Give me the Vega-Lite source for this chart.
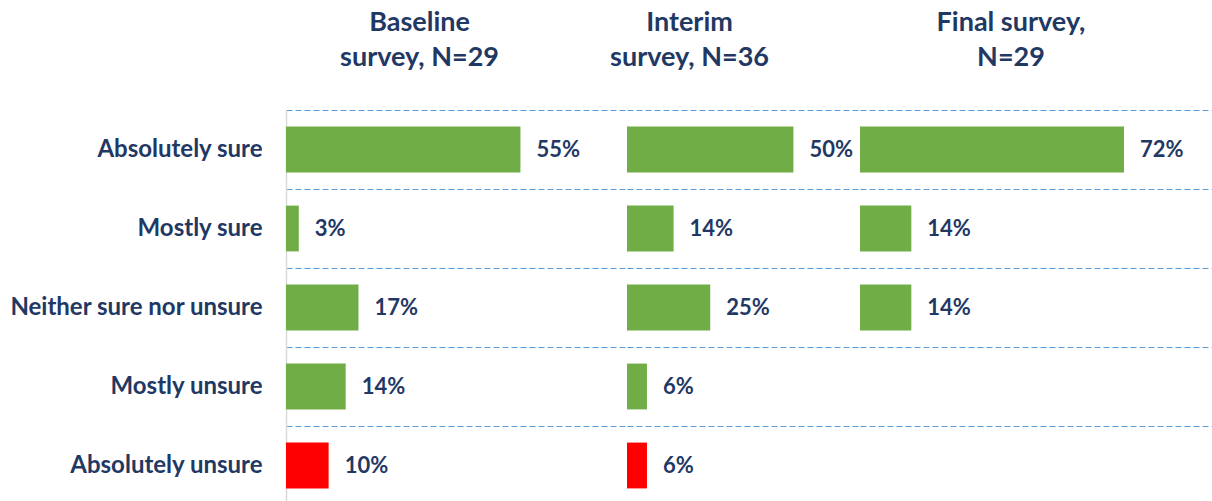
{
  "$schema": "https://vega.github.io/schema/vega-lite/v6.json",
  "padding": {"left": 8, "top": 9, "right": 0, "bottom": 0},
  "background": "#ffffff",
  "config": {
    "view": {"stroke": null},
    "concat": {"spacing": 0},
    "font": "Lato"
  },
  "bounds": "flush",
  "data": {
    "values": [
      {"survey": "Baseline", "response": "Absolutely sure", "share": 0.55},
      {"survey": "Baseline", "response": "Mostly sure", "share": 0.03},
      {"survey": "Baseline", "response": "Neither sure nor unsure", "share": 0.17},
      {"survey": "Baseline", "response": "Mostly unsure", "share": 0.14},
      {"survey": "Baseline", "response": "Absolutely unsure", "share": 0.10},
      {"survey": "Interim", "response": "Absolutely sure", "share": 0.50},
      {"survey": "Interim", "response": "Mostly sure", "share": 0.14},
      {"survey": "Interim", "response": "Neither sure nor unsure", "share": 0.25},
      {"survey": "Interim", "response": "Mostly unsure", "share": 0.06},
      {"survey": "Interim", "response": "Absolutely unsure", "share": 0.06},
      {"survey": "Final", "response": "Absolutely sure", "share": 0.72},
      {"survey": "Final", "response": "Mostly sure", "share": 0.14},
      {"survey": "Final", "response": "Neither sure nor unsure", "share": 0.14}
    ]
  },
  "hconcat": [
    {
      "width": 341,
      "height": 395,
      "title": {"text": ["Baseline", "survey, N=29"], "font": "Lato", "fontSize": 27, "fontWeight": "bold", "color": "#1F3864", "lineHeight": 35, "dx": -37, "offset": 38},
      "transform": [{"filter": "datum.survey == 'Baseline'"}],
      "encoding": {
        "y": {"field": "response", "type": "nominal", "sort": null,
          "scale": {"domain": ["Absolutely sure", "Mostly sure", "Neither sure nor unsure", "Mostly unsure", "Absolutely unsure"], "paddingInner": 0, "paddingOuter": 0},
          "axis": {"title": null, "ticks": false, "labelPadding": 24, "labelFont": "Lato", "labelFontSize": 24, "labelFontWeight": "bold", "labelColor": "#1F3864", "labelLimit": 400,
            "domain": true, "domainColor": "#D9D9D9", "domainWidth": 1.5,
            "grid": true, "bandPosition": 0, "gridColor": "#5B9BD5", "gridDash": [6, 3], "gridWidth": 1}
        },
        "x": {"field": "share", "type": "quantitative", "scale": {"domain": [0, 0.80]}, "axis": null}
      },
      "layer": [
        {"mark": {"type": "bar", "height": {"band": 0.58}},
          "encoding": {"color": {"field": "response", "type": "nominal", "scale": {"domain": ["Absolutely sure", "Mostly sure", "Neither sure nor unsure", "Mostly unsure", "Absolutely unsure"], "range": ["#70AD47", "#70AD47", "#70AD47", "#70AD47", "#FF0000"]}, "legend": null}}},
        {"mark": {"type": "text", "align": "left", "baseline": "middle", "dx": 16, "font": "Lato", "fontSize": 22, "fontWeight": "bold", "color": "#1F3864"},
          "encoding": {"text": {"field": "share", "type": "quantitative", "format": ".0%"}}}
      ]
    },
    {
      "width": 233,
      "height": 395,
      "title": {"text": ["Interim", "survey, N=36"], "font": "Lato", "fontSize": 27, "fontWeight": "bold", "color": "#1F3864", "lineHeight": 35, "dx": -54, "offset": 38},
      "transform": [{"filter": "datum.survey == 'Interim'"}],
      "encoding": {
        "y": {"field": "response", "type": "nominal", "sort": null,
          "scale": {"domain": ["Absolutely sure", "Mostly sure", "Neither sure nor unsure", "Mostly unsure", "Absolutely unsure"], "paddingInner": 0, "paddingOuter": 0},
          "axis": {"title": null, "ticks": false, "labels": false, "domain": false,
            "grid": true, "bandPosition": 0, "gridColor": "#5B9BD5", "gridDash": [6, 3], "gridWidth": 1}
        },
        "x": {"field": "share", "type": "quantitative", "scale": {"domain": [0, 0.70]}, "axis": null}
      },
      "layer": [
        {"mark": {"type": "bar", "height": {"band": 0.58}},
          "encoding": {"color": {"field": "response", "type": "nominal", "scale": {"domain": ["Absolutely sure", "Mostly sure", "Neither sure nor unsure", "Mostly unsure", "Absolutely unsure"], "range": ["#70AD47", "#70AD47", "#70AD47", "#70AD47", "#FF0000"]}, "legend": null}}},
        {"mark": {"type": "text", "align": "left", "baseline": "middle", "dx": 16, "font": "Lato", "fontSize": 22, "fontWeight": "bold", "color": "#1F3864"},
          "encoding": {"text": {"field": "share", "type": "quantitative", "format": ".0%"}}}
      ]
    },
    {
      "width": 352,
      "height": 395,
      "title": {"text": ["Final survey,", "N=29"], "font": "Lato", "fontSize": 27, "fontWeight": "bold", "color": "#1F3864", "lineHeight": 35, "dx": -25, "offset": 38},
      "transform": [{"filter": "datum.survey == 'Final'"}],
      "encoding": {
        "y": {"field": "response", "type": "nominal", "sort": null,
          "scale": {"domain": ["Absolutely sure", "Mostly sure", "Neither sure nor unsure", "Mostly unsure", "Absolutely unsure"], "paddingInner": 0, "paddingOuter": 0},
          "axis": {"title": null, "ticks": false, "labels": false, "domain": false,
            "grid": true, "bandPosition": 0, "gridColor": "#5B9BD5", "gridDash": [6, 3], "gridWidth": 1}
        },
        "x": {"field": "share", "type": "quantitative", "scale": {"domain": [0, 0.96]}, "axis": null}
      },
      "layer": [
        {"mark": {"type": "bar", "height": {"band": 0.58}},
          "encoding": {"color": {"field": "response", "type": "nominal", "scale": {"domain": ["Absolutely sure", "Mostly sure", "Neither sure nor unsure", "Mostly unsure", "Absolutely unsure"], "range": ["#70AD47", "#70AD47", "#70AD47", "#70AD47", "#FF0000"]}, "legend": null}}},
        {"mark": {"type": "text", "align": "left", "baseline": "middle", "dx": 16, "font": "Lato", "fontSize": 22, "fontWeight": "bold", "color": "#1F3864"},
          "encoding": {"text": {"field": "share", "type": "quantitative", "format": ".0%"}}}
      ]
    }
  ]
}
